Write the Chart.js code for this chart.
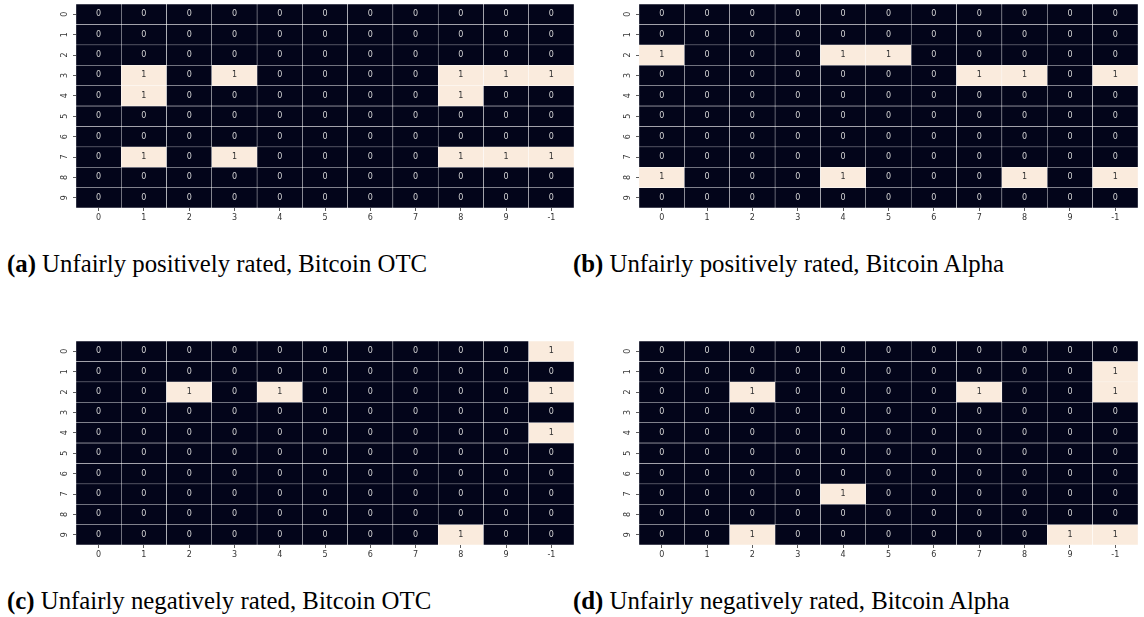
<!DOCTYPE html>
<html>
<head>
<meta charset="utf-8">
<script src="https://cdn.jsdelivr.net/npm/chart.js@4.4.1/dist/chart.umd.min.js"></script>
<style>
  html, body { margin: 0; padding: 0; background: #ffffff; }
  body { width: 1144px; height: 617px; position: relative; overflow: hidden; }
  .panel { position: absolute; }
  .cap {
    position: absolute;
    font-family: "Liberation Serif", "Times New Roman", serif;
    font-size: 24.8px;
    line-height: 1;
    color: #000000;
    white-space: nowrap;
  }
  .cap b { font-weight: bold; }
</style>
</head>
<body>
<div class="panel" style="left:0px;top:0px;"><canvas id="hmA" width="580" height="230"></canvas></div>
<div class="panel" style="left:563px;top:0px;"><canvas id="hmB" width="581" height="230"></canvas></div>
<div class="panel" style="left:0px;top:337px;"><canvas id="hmC" width="580" height="230"></canvas></div>
<div class="panel" style="left:563px;top:337px;"><canvas id="hmD" width="581" height="230"></canvas></div>

<div class="cap" style="left:7px;top:252px;"><b>(a)</b> Unfairly positively rated, Bitcoin OTC</div>
<div class="cap" style="left:573px;top:252px;"><b>(b)</b> Unfairly positively rated, Bitcoin Alpha</div>
<div class="cap" style="left:7px;top:589px;"><b>(c)</b> Unfairly negatively rated, Bitcoin OTC</div>
<div class="cap" style="left:573px;top:589px;"><b>(d)</b> Unfairly negatively rated, Bitcoin Alpha</div>

<script>
// Axis labels
const colLabels = ['0', '1', '2', '3', '4', '5', '6', '7', '8', '9', '-1'];
const rowLabels = ['0', '1', '2', '3', '4', '5', '6', '7', '8', '9'];

// Cell values (rows 0..9, columns in colLabels order)
const otcPositive = [
  [0,0,0,0,0,0,0,0,0,0,0],
  [0,0,0,0,0,0,0,0,0,0,0],
  [0,0,0,0,0,0,0,0,0,0,0],
  [0,1,0,1,0,0,0,0,1,1,1],
  [0,1,0,0,0,0,0,0,1,0,0],
  [0,0,0,0,0,0,0,0,0,0,0],
  [0,0,0,0,0,0,0,0,0,0,0],
  [0,1,0,1,0,0,0,0,1,1,1],
  [0,0,0,0,0,0,0,0,0,0,0],
  [0,0,0,0,0,0,0,0,0,0,0]
];
const alphaPositive = [
  [0,0,0,0,0,0,0,0,0,0,0],
  [0,0,0,0,0,0,0,0,0,0,0],
  [1,0,0,0,1,1,0,0,0,0,0],
  [0,0,0,0,0,0,0,1,1,0,1],
  [0,0,0,0,0,0,0,0,0,0,0],
  [0,0,0,0,0,0,0,0,0,0,0],
  [0,0,0,0,0,0,0,0,0,0,0],
  [0,0,0,0,0,0,0,0,0,0,0],
  [1,0,0,0,1,0,0,0,1,0,1],
  [0,0,0,0,0,0,0,0,0,0,0]
];
const otcNegative = [
  [0,0,0,0,0,0,0,0,0,0,1],
  [0,0,0,0,0,0,0,0,0,0,0],
  [0,0,1,0,1,0,0,0,0,0,1],
  [0,0,0,0,0,0,0,0,0,0,0],
  [0,0,0,0,0,0,0,0,0,0,1],
  [0,0,0,0,0,0,0,0,0,0,0],
  [0,0,0,0,0,0,0,0,0,0,0],
  [0,0,0,0,0,0,0,0,0,0,0],
  [0,0,0,0,0,0,0,0,0,0,0],
  [0,0,0,0,0,0,0,0,1,0,0]
];
const alphaNegative = [
  [0,0,0,0,0,0,0,0,0,0,0],
  [0,0,0,0,0,0,0,0,0,0,1],
  [0,0,1,0,0,0,0,1,0,0,1],
  [0,0,0,0,0,0,0,0,0,0,0],
  [0,0,0,0,0,0,0,0,0,0,0],
  [0,0,0,0,0,0,0,0,0,0,0],
  [0,0,0,0,0,0,0,0,0,0,0],
  [0,0,0,0,1,0,0,0,0,0,0],
  [0,0,0,0,0,0,0,0,0,0,0],
  [0,0,1,0,0,0,0,0,0,1,1]
];

const LOW = '#03051a';
const HIGH = '#faebdd';
const TICK_COLOR = '#333333';
const TICK_FONT = '"DejaVu Sans", sans-serif';

function makeHeatmap(canvasId, matrix) {
  // One floating-bar dataset per row, spanning [row, row + 1] on a reversed linear y scale
  const datasets = rowLabels.map((r, i) => ({
    label: r,
    data: colLabels.map(() => [i, i + 1]),
    backgroundColor: matrix[i].map(v => (v ? HIGH : LOW)),
    borderColor: '#ffffff',
    borderWidth: 0.5,
    borderSkipped: false,
    barPercentage: 1,
    categoryPercentage: 1,
    grouped: false
  }));

  // Value labels in the middle of each cell
  const cellText = {
    id: 'cellText',
    afterDatasetsDraw(chart) {
      const ctx = chart.ctx;
      ctx.save();
      ctx.font = '8px ' + TICK_FONT;
      ctx.textAlign = 'center';
      ctx.textBaseline = 'middle';
      chart.data.datasets.forEach((ds, i) => {
        chart.getDatasetMeta(i).data.forEach((bar, j) => {
          const v = matrix[i][j];
          ctx.fillStyle = v ? '#303030' : '#d6d6d6';
          ctx.fillText(String(v), bar.x, (bar.y + bar.base) / 2);
        });
      });
      ctx.restore();
    }
  };

  // Row labels, rotated to read upwards, placed at the y scale's row centres
  const rowTickText = {
    id: 'rowTickText',
    afterDraw(chart) {
      const ctx = chart.ctx;
      const ys = chart.scales.y;
      ctx.save();
      ctx.font = '8px ' + TICK_FONT;
      ctx.fillStyle = TICK_COLOR;
      ctx.textAlign = 'center';
      ctx.textBaseline = 'middle';
      rowLabels.forEach((lab, i) => {
        const py = ys.getPixelForValue(i + 0.5);
        ctx.save();
        ctx.translate(ys.right - 3 - 8, py);
        ctx.rotate(-Math.PI / 2);
        ctx.fillText(lab, 0, 0);
        ctx.restore();
      });
      ctx.restore();
    }
  };

  return new Chart(document.getElementById(canvasId), {
    type: 'bar',
    data: { labels: colLabels, datasets },
    options: {
      responsive: false,
      animation: false,
      devicePixelRatio: 1,
      layout: { padding: { left: 0, right: 6, top: 4, bottom: 0 } },
      plugins: { legend: { display: false }, tooltip: { enabled: false } },
      scales: {
        x: {
          type: 'category',
          offset: true,
          border: { display: false },
          grid: {
            offset: false,
            drawOnChartArea: false,
            drawTicks: true,
            tickLength: 3,
            tickColor: TICK_COLOR,
            lineWidth: 0.8
          },
          ticks: {
            color: TICK_COLOR,
            font: { family: TICK_FONT, size: 8 },
            padding: 2,
            maxRotation: 0,
            minRotation: 0,
            autoSkip: false
          },
          afterFit(scale) { scale.height = 22; }
        },
        y: {
          type: 'linear',
          min: 0,
          max: 10,
          reverse: true,
          border: { display: false },
          afterBuildTicks(scale) {
            scale.ticks = rowLabels.map((_, i) => ({ value: i + 0.5 }));
          },
          grid: {
            drawOnChartArea: false,
            drawTicks: true,
            tickLength: 3,
            tickColor: TICK_COLOR,
            lineWidth: 0.8
          },
          ticks: { display: false },
          afterFit(scale) { scale.width = 76; }
        }
      }
    },
    plugins: [cellText, rowTickText]
  });
}

makeHeatmap('hmA', otcPositive);
makeHeatmap('hmB', alphaPositive);
makeHeatmap('hmC', otcNegative);
makeHeatmap('hmD', alphaNegative);
</script>
</body>
</html>
